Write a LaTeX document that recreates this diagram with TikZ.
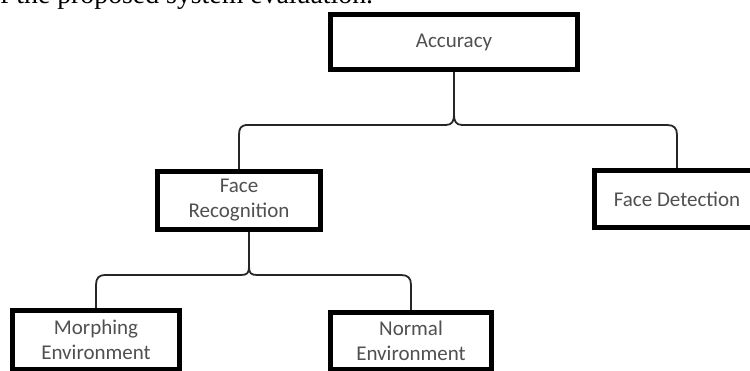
\documentclass[tikz,border=0pt]{standalone}
\usepackage{fontspec}
\setmainfont{Liberation Serif}
\newfontfamily\boxfont{Carlito}
\definecolor{labelgray}{RGB}{80,80,80}
\begin{document}
\begin{tikzpicture}[x=1pt,y=-1pt,
  box/.style={draw=black, line width=5pt, fill=white, inner sep=0pt,
    align=center, text=labelgray, font=\boxfont\fontsize{21}{25}\selectfont},
  link/.style={draw=black!85, line width=1.8pt, line join=round}]
\useasboundingbox (0,0) rectangle (750,371);
\clip (0,0) rectangle (750,371);

% running text above the chart
\node[anchor=base west, inner sep=0pt, font=\fontsize{27.8}{30}\selectfont]
  (caption) at (0,4) {f the proposed system evaluation.};

% boxes
\node[box, minimum width=247pt, minimum height=55pt] (acc) at (454,42) {Accuracy};
\node[box, minimum width=163pt, minimum height=58pt] (fr) at (239,200.5) {Face\\Recognition};
\node[box, minimum width=165pt, minimum height=57pt] (fd) at (677,199) {Face Detection};
\node[box, minimum width=167pt, minimum height=59pt] (me) at (96,340) {Morphing\\Environment};
\node[box, minimum width=161pt, minimum height=57pt] (ne) at (411,341) {Normal\\Environment};

% bracket from Accuracy to its two branches
\draw[link] (acc.south) -- (454,115)
  .. controls (454,121) and (452,125) .. (446,125) -- (248,125)
  .. controls (241,125) and (239,128) .. (239,135) -- (fr.north);
\draw[link] (454,115)
  .. controls (454,121) and (456,125) .. (462,125) -- (667,125)
  .. controls (674,125) and (677,128) .. (677,135) -- (fd.north);

% bracket from Face Recognition to the two environments
\draw[link] ([xshift=10pt]fr.south) -- (249,267)
  .. controls (249,273) and (247,275) .. (241,275) -- (105,275)
  .. controls (99,275) and (96,278) .. (96,285) -- (me.north);
\draw[link] (249,267)
  .. controls (249,273) and (251,275) .. (257,275) -- (401,275)
  .. controls (408,275) and (411,278) .. (411,285) -- (ne.north);
\end{tikzpicture}
\end{document}
